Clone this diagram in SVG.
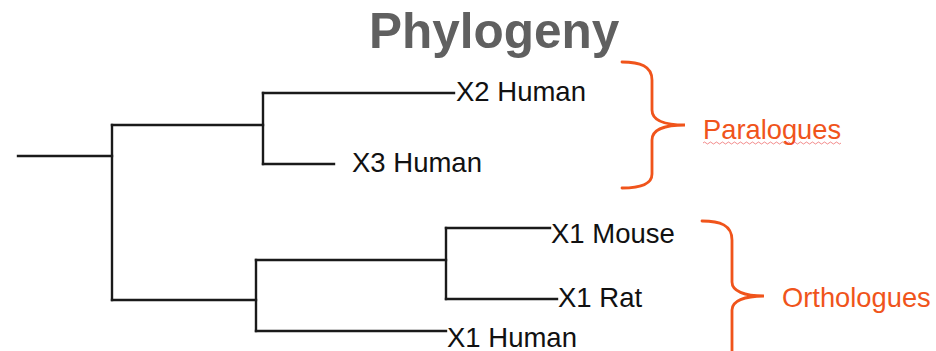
<svg xmlns="http://www.w3.org/2000/svg" width="936" height="351" viewBox="0 0 936 351">
<style>
.br{fill:none;stroke:#1a1a1a;stroke-width:2.4;stroke-linecap:square}
.lbl{font-family:"Liberation Sans",Arial,sans-serif;font-size:27.5px;fill:#111}
.brace{fill:none;stroke:#f0541b;stroke-width:2.8;stroke-linecap:round}
.grp{font-family:"Liberation Sans",Arial,sans-serif;font-size:27.3px;fill:#f0541b}
.title{font-family:"Liberation Sans",Arial,sans-serif;font-size:49.5px;font-weight:bold;fill:#606060}
</style>
<rect width="936" height="351" fill="#fff"/>
<text id="title" class="title" x="369" y="48">Phylogeny</text>
<g id="connectors">
<path class="br" d="M18 156H112"/>
<path class="br" d="M112 125V300"/>
<path class="br" d="M112 125H263"/>
<path class="br" d="M263 93V164"/>
<path class="br" d="M263 93H454"/>
<path class="br" d="M263 164H334"/>
<path class="br" d="M112 300H256"/>
<path class="br" d="M256 260V331"/>
<path class="br" d="M256 260H446"/>
<path class="br" d="M256 331H446"/>
<path class="br" d="M446 228V299"/>
<path class="br" d="M446 228H550"/>
<path class="br" d="M446 299H557"/>
</g>
<g id="x2human"><text class="lbl" x="456" y="101">X2 Human</text></g>
<g id="x3human"><text class="lbl" x="352" y="172">X3 Human</text></g>
<g id="x1mouse"><text class="lbl" x="551" y="243">X1 Mouse</text></g>
<g id="x1rat"><text class="lbl" x="558" y="307">X1 Rat</text></g>
<g id="x1human"><text class="lbl" x="447" y="347">X1 Human</text></g>
<g id="paralogues">
<path class="brace" d="M622 62C640 62 652 66 652 80V110C652 120 664 125 685 125C664 125 652 130 652 140V174C652 184 640 188 622 188"/>
<text class="grp" x="703" y="139">Paralogues</text>
<path d="M703 143q1.5 -2 3 0t3 0t3 0t3 0t3 0t3 0t3 0t3 0t3 0t3 0t3 0t3 0t3 0t3 0t3 0t3 0t3 0t3 0t3 0t3 0t3 0t3 0t3 0t3 0t3 0t3 0t3 0t3 0t3 0t3 0t3 0t3 0t3 0t3 0t3 0t3 0t3 0t3 0t3 0t3 0t3 0t3 0t3 0t3 0t3 0t3 0" fill="none" stroke="#e83030" stroke-width="0.8" opacity="0.7"/>
</g>
<g id="orthologues">
<path class="brace" d="M702 221C720 221 732 225 732 240V282C732 291 744 296 764 296C744 296 732 301 732 310V352"/>
<text class="grp" x="782" y="307">Orthologues</text>
</g>
</svg>
